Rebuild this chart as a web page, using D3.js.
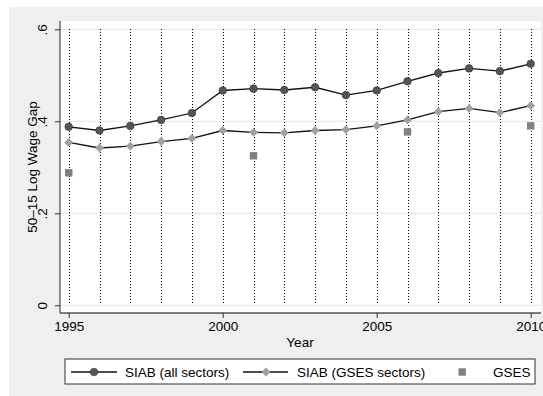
<!DOCTYPE html>
<html>
<head>
<meta charset="utf-8">
<script src="https://d3js.org/d3.v7.min.js"></script>
<style>
  body { margin: 0; background: #fff; }
  text { font-family: "Liberation Sans", Arial, sans-serif; fill: #000; }
</style>
</head>
<body>
<div id="chart"></div>
<script>
// data
var years = [1995,1996,1997,1998,1999,2000,2001,2002,2003,2004,2005,2006,2007,2008,2009,2010];
var siabAll = [0.388,0.380,0.390,0.403,0.418,0.467,0.471,0.468,0.474,0.457,0.467,0.487,0.505,0.515,0.509,0.525];
var siabGses = [0.354,0.342,0.346,0.356,0.363,0.380,0.376,0.375,0.380,0.382,0.390,0.403,0.421,0.428,0.419,0.434];
var gsesYears = [1995,2001,2006,2010];
var gsesVals = [0.288,0.325,0.377,0.390];
var yTicks = [0, 0.2, 0.4, 0.6];
var yTickLabels = ["0", ".2", ".4", ".6"];
var xTicks = [1995, 2000, 2005, 2010];
var legendLabels = ["SIAB (all sectors)", "SIAB (GSES sectors)", "GSES"];

var W = 543, H = 396;
var svg = d3.select("#chart").append("svg").attr("width", W).attr("height", H);

// outer graph region
svg.append("rect").attr("x", 9).attr("y", 7).attr("width", W - 9).attr("height", H - 7).attr("fill", "#efefef");

// plot region
var plot = {left: 60, top: 21, right: 541, bottom: 313};
svg.append("rect").attr("x", plot.left).attr("y", plot.top)
  .attr("width", plot.right - plot.left).attr("height", plot.bottom - plot.top).attr("fill", "#fff");

var x = d3.scaleLinear().domain([1995, 2010]).range([68.7, 530.7]);
var y = d3.scaleLinear().domain([0, 0.6]).range([305.3, 29.3]);

// horizontal grid
svg.selectAll(".grid").data(yTicks).enter().append("line")
  .attr("x1", plot.left).attr("x2", plot.right)
  .attr("y1", function(d){ return y(d); }).attr("y2", function(d){ return y(d); })
  .attr("stroke", "#e6e6e6").attr("stroke-width", 1);

// dotted year lines
svg.selectAll(".xline").data(years).enter().append("line")
  .attr("x1", function(d){ return Math.round(x(d)) + 0.5; }).attr("x2", function(d){ return Math.round(x(d)) + 0.5; })
  .attr("y1", y(0.6)).attr("y2", y(0))
  .attr("stroke", "#000").attr("stroke-width", 1).attr("stroke-dasharray", "1,2")
  .attr("shape-rendering", "crispEdges");

// axes
var yAxis = d3.axisLeft(y).tickValues(yTicks).tickSize(5).tickFormat(function(d, i){ return yTickLabels[i]; });
var gy = svg.append("g").attr("transform", "translate(" + plot.left + ",0)").call(yAxis);
gy.select(".domain").attr("d", "M0," + plot.top + "V" + plot.bottom).attr("stroke", "#555").attr("stroke-width", 1.3);
gy.selectAll(".tick line").attr("stroke", "#333");
gy.selectAll(".tick text").attr("font-size", 13.5).attr("text-anchor", "middle")
  .attr("x", null).attr("dy", null)
  .attr("transform", "translate(-13,0) rotate(-90)");

var xAxis = d3.axisBottom(x).tickValues(xTicks).tickSize(5).tickFormat(d3.format("d"));
var gx = svg.append("g").attr("transform", "translate(0," + plot.bottom + ")").call(xAxis);
gx.select(".domain").attr("d", "M" + plot.left + ",0H" + plot.right).attr("stroke", "#555").attr("stroke-width", 1.3);
gx.selectAll(".tick line").attr("stroke", "#333");
gx.selectAll(".tick text").attr("font-size", 13.5).attr("y", 8).attr("dy", "0.71em");

// axis titles
svg.append("text").attr("x", 300).attr("y", 347).attr("text-anchor", "middle").attr("font-size", 13.5).text("Year");
svg.append("text").attr("transform", "translate(37," + ((plot.top + plot.bottom) / 2) + ") rotate(-90)")
  .attr("text-anchor", "middle").attr("font-size", 13.5).text("50\u201315 Log Wage Gap");

// series
var line = d3.line().x(function(d){ return x(d[0]); }).y(function(d){ return y(d[1]); });
var allPts = years.map(function(d, i){ return [d, siabAll[i]]; });
var gsesPts = years.map(function(d, i){ return [d, siabGses[i]]; });
var sqPts = gsesYears.map(function(d, i){ return [d, gsesVals[i]]; });

svg.append("path").datum(allPts).attr("d", line).attr("fill", "none").attr("stroke", "#111").attr("stroke-width", 1.3);
svg.append("path").datum(gsesPts).attr("d", line).attr("fill", "none").attr("stroke", "#111").attr("stroke-width", 1.3);

var diamond = d3.symbol().type(d3.symbolDiamond2).size(50);
svg.selectAll(".dia").data(gsesPts).enter().append("path")
  .attr("d", diamond)
  .attr("transform", function(d){ return "translate(" + x(d[0]) + "," + y(d[1]) + ")"; })
  .attr("fill", "#a0a0a0");

svg.selectAll(".dot").data(allPts).enter().append("circle")
  .attr("cx", function(d){ return x(d[0]); }).attr("cy", function(d){ return y(d[1]); })
  .attr("r", 3.8).attr("fill", "#555").attr("stroke", "#333").attr("stroke-width", 0.6);

svg.selectAll(".sq").data(sqPts).enter().append("rect")
  .attr("x", function(d){ return x(d[0]) - 3.7; }).attr("y", function(d){ return y(d[1]) - 3.7; })
  .attr("width", 7.4).attr("height", 7.4).attr("fill", "#808080");

// legend
var lg = svg.append("g");
lg.append("rect").attr("x", 65).attr("y", 359).attr("width", 470).attr("height", 25)
  .attr("fill", "#fff").attr("stroke", "#333").attr("stroke-width", 1);
var ly = 372;
lg.append("line").attr("x1", 71).attr("x2", 117).attr("y1", ly).attr("y2", ly).attr("stroke", "#111").attr("stroke-width", 1.3);
lg.append("circle").attr("cx", 94).attr("cy", ly).attr("r", 3.8).attr("fill", "#555").attr("stroke", "#333").attr("stroke-width", 0.6);
lg.append("text").attr("x", 125).attr("y", ly).attr("dy", "0.36em").attr("font-size", 13.5).text(legendLabels[0]);
lg.append("line").attr("x1", 243).attr("x2", 288).attr("y1", ly).attr("y2", ly).attr("stroke", "#111").attr("stroke-width", 1.3);
lg.append("path").attr("d", diamond).attr("transform", "translate(266," + ly + ")").attr("fill", "#a0a0a0");
lg.append("text").attr("x", 297).attr("y", ly).attr("dy", "0.36em").attr("font-size", 13.5).text(legendLabels[1]);
lg.append("rect").attr("x", 458.5).attr("y", ly - 3.7).attr("width", 7.4).attr("height", 7.4).attr("fill", "#808080");
lg.append("text").attr("x", 493).attr("y", ly).attr("dy", "0.36em").attr("font-size", 13.5).text(legendLabels[2]);
</script>
</body>
</html>
